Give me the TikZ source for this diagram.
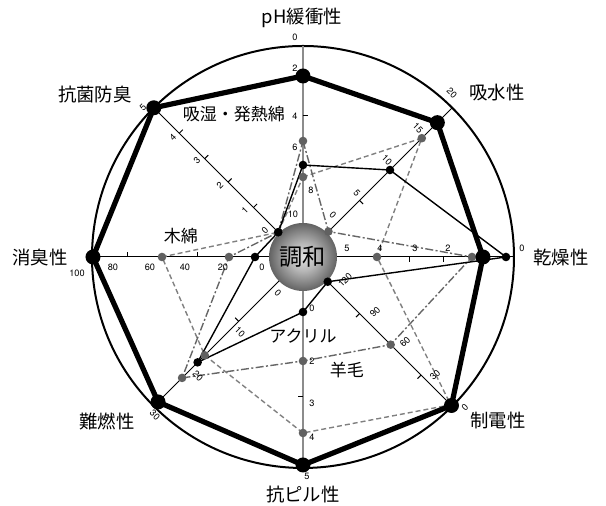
\documentclass[tikz,border=0pt]{standalone}
\usepackage{tikz}
\usepackage{fontspec}
\setmainfont{Noto Sans CJK JP}
\newfontfamily\numfont{TeX Gyre Heros}
\pgfdeclareradialshading{spheregray}{\pgfpoint{0bp}{0bp}}{color(0bp)=(black!12); color(10bp)=(black!28); color(20bp)=(black!50); color(28bp)=(black!68); color(50bp)=(black!80)}

\begin{document}
\begin{tikzpicture}[x=0.5pt,y=0.5pt,
    axisline/.style={line width=0.5pt},
    tickline/.style={line width=0.5pt},
    prodline/.style={line width=2.6pt,line join=round},
    acryline/.style={line width=0.7pt,line join=round},
    woolline/.style={line width=0.7pt,black!60,dash pattern=on 4pt off 1.2pt on 1pt off 1.2pt},
    cottonline/.style={line width=0.7pt,black!50,dash pattern=on 2.5pt off 1.5pt},
    ticklabel/.style={font=\numfont\fontsize{4.6}{5}\selectfont,inner sep=0pt},
    axistitle/.style={font=\fontsize{9.2}{10}\selectfont,inner sep=0pt},
    serieslabel/.style={font=\fontsize{8.5}{9}\selectfont,inner sep=0pt}]
    \useasboundingbox (-303,-249) rectangle (303,257);
    \draw[line width=1pt] (0,0) circle (211);
    \draw[axisline,black!45,line width=0.7pt] (0,211) -- (0,-211);
    \draw[axisline] (-211,0) -- (211,0);
    \draw[axisline] (135:211) -- (-45:211);
    \draw[axisline] (45:211) -- (-135:211);
    \draw[tickline] (90:141) -- ++(0:5);
    \draw[tickline] (45:80) -- ++(-45:5);
    \draw[tickline] (0:107) -- ++(-90:5);
    \draw[tickline] (0:141) -- ++(-90:5);
    \draw[tickline] (-45:80) -- ++(-135:5);
    \draw[tickline] (-45:167) -- ++(-135:5);
    \draw[tickline] (-90:140) -- ++(180:5);
    \draw[tickline] (-135:91) -- ++(135:5);
    \draw[tickline] (180:175) -- ++(90:5);
    \draw[tickline] (180:105) -- ++(90:5);
    \draw[tickline] (135:70) -- ++(45:5);
    \draw[tickline] (135:106) -- ++(45:5);
    \draw[tickline] (135:139) -- ++(45:5);
    \draw[tickline] (135:175) -- ++(45:5);
    \node[circle,minimum size=34pt,inner sep=0pt,shading=spheregray,font=\fontsize{11.6}{12}\selectfont] (core) at (0,0) {調和};

    \coordinate (p1) at (90:181);
    \coordinate (p2) at (45:190);
    \coordinate (p3) at (0:180);
    \coordinate (p4) at (-45:210);
    \coordinate (p5) at (-90:208);
    \coordinate (p6) at (-135:205);
    \coordinate (p7) at (180:210);
    \coordinate (p8) at (135:211);
    \coordinate (a1) at (90:92);
    \coordinate (a2) at (45:123);
    \coordinate (a3) at (0:203);
    \coordinate (a4) at (-45:35);
    \coordinate (a5) at (-90:55);
    \coordinate (a6) at (-135:149);
    \coordinate (a7) at (180:48);
    \coordinate (a8) at (135:35);
    \coordinate (b1) at (90:116);
    \coordinate (b2) at (45:36);
    \coordinate (b3) at (0:169);
    \coordinate (b4) at (-45:124);
    \coordinate (b5) at (-90:104);
    \coordinate (b6) at (-135:171);
    \coordinate (b7) at (180:74);
    \coordinate (b8) at (135:35);
    \coordinate (c1) at (90:80);
    \coordinate (c2) at (45:168);
    \coordinate (c3) at (0:74);
    \coordinate (c4) at (-45:209);
    \coordinate (c5) at (-90:176);
    \coordinate (c6) at (-135:139);
    \coordinate (c7) at (180:141);
    \coordinate (c8) at (135:35);

    \draw[cottonline] (c1) -- (c2) -- (c3) -- (c4) -- (c5) -- (c6) -- (c7) -- (c8) -- cycle;
    \draw[woolline] (b1) -- (b2) -- (b3) -- (b4) -- (b5) -- (b6) -- (b7) -- (b8) -- cycle;
    \draw[acryline] (a1) -- (a2) -- (a3) -- (a4) -- (a5) -- (a6) -- (a7) -- (a8) -- cycle;
    \fill[black!62] (c1) circle (4.3) (c2) circle (4.3) (c3) circle (4.3) (c4) circle (4.3) (c5) circle (4.3) (c6) circle (4.3) (c7) circle (4.3) (c8) circle (4.3);
    \fill[black!62] (b1) circle (4.3) (b2) circle (4.3) (b3) circle (4.3) (b4) circle (4.3) (b5) circle (4.3) (b6) circle (4.3) (b7) circle (4.3) (b8) circle (4.3);
    \fill (a1) circle (4.3) (a2) circle (4.3) (a3) circle (4.3) (a4) circle (4.3) (a5) circle (4.3) (a6) circle (4.3) (a7) circle (4.3) (a8) circle (4.3);
    \draw[prodline] (p1) -- (p2) -- (p3) -- (p4) -- (p5) -- (p6) -- (p7) -- (p8) -- cycle;
    \fill (p1) circle (7.5) (p2) circle (7.5) (p3) circle (7.5) (p4) circle (7.5) (p5) circle (7.5) (p6) circle (7.5) (p7) circle (7.5) (p8) circle (7.5);

    \node[ticklabel] (ph0) at (-8,220) {0};
    \node[ticklabel] (ph2) at (-8,189) {2};
    \node[ticklabel] (ph4) at (-8,141) {4};
    \node[ticklabel] (ph6) at (-8,110) {6};
    \node[ticklabel] (ph8) at (8,67) {8};
    \node[ticklabel] (ph10) at (-10,43) {10};
    \node[ticklabel] (pl0) at (9,-51) {0};
    \node[ticklabel] (pl2) at (9,-104) {2};
    \node[ticklabel] (pl3) at (9,-146) {3};
    \node[ticklabel] (pl4) at (9,-180) {4};
    \node[ticklabel] (pl5) at (4,-219) {5};
    \node[ticklabel] (dr0) at (219,9) {0};
    \node[ticklabel] (dr2) at (145,9) {2};
    \node[ticklabel] (dr3) at (112,9) {3};
    \node[ticklabel] (dr4) at (77,9) {4};
    \node[ticklabel] (dr5) at (44,9) {5};
    \node[ticklabel] (od100) at (-226,-16) {100};
    \node[ticklabel] (od80) at (-190,-10) {80};
    \node[ticklabel] (od60) at (-153,-10) {60};
    \node[ticklabel] (od40) at (-118,-10) {40};
    \node[ticklabel] (od20) at (-80,-10) {20};
    \node[ticklabel] (od0) at (-41,-10) {0};
    \node[ticklabel,rotate=-45] (ab0) at (30,42) {0};
    \node[ticklabel,rotate=-45] (ab5) at (54,64) {5};
    \node[ticklabel,rotate=-45] (ab10) at (84,97) {10};
    \node[ticklabel,rotate=-45] (ab15) at (115,129) {15};
    \node[ticklabel,rotate=-45] (ab20) at (149,164) {20};
    \node[ticklabel,rotate=45] (an0) at (-38,27) {0};
    \node[ticklabel,rotate=45] (an1) at (-58,47) {1};
    \node[ticklabel,rotate=45] (an2) at (-83,72) {2};
    \node[ticklabel,rotate=45] (an3) at (-106,97) {3};
    \node[ticklabel,rotate=45] (an4) at (-130,120) {4};
    \node[ticklabel,rotate=45] (an5) at (-160,150) {5};
    \node[ticklabel,rotate=-45] (fr0) at (-25,-36) {0};
    \node[ticklabel,rotate=-45] (fr10) at (-63,-75) {10};
    \node[ticklabel,rotate=-45] (fr20) at (-105,-119) {20};
    \node[ticklabel,rotate=-45] (fr30) at (-148,-158) {30};
    \node[ticklabel,rotate=45] (st120) at (42,-23) {120};
    \node[ticklabel,rotate=45] (st90) at (72,-55) {90};
    \node[ticklabel,rotate=45] (st60) at (102,-85) {60};
    \node[ticklabel,rotate=45] (st30) at (132,-118) {30};
    \node[ticklabel,rotate=45] (st0) at (162,-150) {0};

    \node[axistitle] (ti-ph) at (-1,239) {pH緩衝性};
    \node[axistitle] (ti-abs) at (194,164) {吸水性};
    \node[axistitle] (ti-dry) at (258,-1) {乾燥性};
    \node[axistitle] (ti-stat) at (195,-164) {制電性};
    \node[axistitle] (ti-pill) at (0,-238) {抗ピル性};
    \node[axistitle] (ti-fire) at (-196,-164) {難燃性};
    \node[axistitle] (ti-odor) at (-263,-1) {消臭性};
    \node[axistitle] (ti-anti) at (-208,162) {抗菌防臭};
    \node[serieslabel] (lb-heat) at (-69,143) {吸湿・発熱綿};
    \node[serieslabel] (lb-cotton) at (-122,21) {木綿};
    \node[serieslabel] (lb-acryl) at (0,-79) {アクリル};
    \node[serieslabel] (lb-wool) at (44,-113) {羊毛};
\end{tikzpicture}
\end{document}
